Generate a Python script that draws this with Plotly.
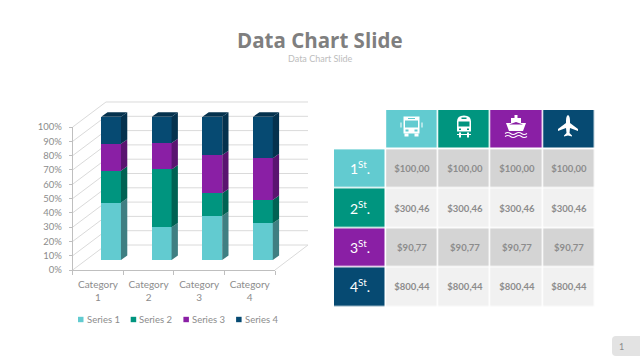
import plotly.graph_objects as go

categories = ["Category<br>1", "Category<br>2", "Category<br>3", "Category<br>4"]
series_names = ["Series 1", "Series 2", "Series 3", "Series 4"]
s1 = [40, 22.8, 30.7, 25.6]
s2 = [22.3, 40.4, 15.8, 16.3]
s3 = [18.8, 18.4, 26.7, 29.1]
s4 = [18.9, 18.4, 26.8, 29.0]
series_values = [s1, s2, s3, s4]
y_ticks = list(range(0, 101, 10))
y_labels = [f"{v}%" for v in y_ticks]
row_labels = ["1<sup>St</sup>.", "2<sup>St</sup>.", "3<sup>St</sup>.", "4<sup>St</sup>."]
row_costs = ["$100,00", "$300,46", "$90,77", "$800,44"]

W, H = 640, 360
front = ["#62CBD0", "#00957F", "#8A1FA5", "#064A72"]
side = ["#3F7F82", "#006253", "#5A1470", "#05324E"]
top_col = "#05324E"
grid = "#DADADA"
axc = "#BFBFBF"
txt = "#8C8C8C"
shade = ["#D4D4D4", "#F1F1F1"]

def fx(p): return p / W
def fy(p): return 1 - p / H
def path(cmds):
    out = []
    for c in cmds:
        if isinstance(c, str):
            out.append(c)
        else:
            out.append(f"{fx(c[0]):.5f},{fy(c[1]):.5f}")
    return " ".join(out)

fig = go.Figure()

# main visible axes (ticks, labels)
fig.add_trace(go.Scatter(x=[0, 1, 2, 3], y=[0, 0, 0, 0], mode="none", showlegend=False,
                         hoverinfo="skip", xaxis="x", yaxis="y"))

# stacked bars on overlay axes
bw = 0.39
dx, dy = 6.3 / 50.6, 4.4 / 1.433
for k, name in enumerate(series_names):
    fig.add_trace(go.Bar(x=[0, 1, 2, 3], y=series_values[k], name=name, marker=dict(color=front[k], line_width=0),
                         width=bw, xaxis="x2", yaxis="y2", showlegend=False))
for i in range(4):
    base = 0
    for k in range(4):
        v = series_values[k][i]
        xr = i + bw / 2
        fig.add_trace(go.Scatter(x=[xr, xr + dx, xr + dx, xr, xr], y=[base, base + dy, base + v + dy, base + v, base],
                                 mode="lines", line_width=0, fill="toself", fillcolor=side[k],
                                 showlegend=False, hoverinfo="skip", xaxis="x2", yaxis="y2"))
        base += v
    xl = i - bw / 2
    fig.add_trace(go.Scatter(x=[xl, xl + dx, xr + dx, xr, xl], y=[base, base + dy, base + dy, base, base],
                             mode="lines", line_width=0, fill="toself", fillcolor=top_col,
                             showlegend=False, hoverinfo="skip", xaxis="x2", yaxis="y2"))

# table drawn as heatmap cells: colour index -> palette
palette = front + shade
n = len(palette) - 1
cscale = []
for i, c in enumerate(palette):
    cscale += [[i / (n + 1), c], [(i + 1) / (n + 1), c]]
hm = dict(colorscale=cscale, zmin=-0.5, zmax=n + 0.5, showscale=False, xgap=1.5, ygap=1.5, hoverinfo="skip",
          xaxis="x3", yaxis="y3")
fig.add_trace(go.Heatmap(x=[1, 2, 3, 4], y=[0], z=[[0, 1, 2, 3]], **hm))
fig.add_trace(go.Heatmap(x=[0], y=[1, 2, 3, 4], z=[[0], [1], [2], [3]], text=[[t] for t in row_labels],
                         texttemplate="%{text}", textfont=dict(family="Lato", size=14, color="white"), **hm))
fig.add_trace(go.Heatmap(x=[1, 2, 3, 4], y=[1, 2, 3, 4], z=[[4 + r % 2] * 4 for r in range(4)],
                         text=[[f"<b>{c}</b>"] * 4 for c in row_costs], texttemplate="%{text}",
                         textfont=dict(family="Lato", size=9.5, color=txt), **hm))

shapes = []
# walls
xl0, xb0, xb1, xr0 = 72.7, 106, 308, 275
yb, yt = 270, 127
ddy = 25
for v in y_ticks:
    y = yb - (yt - yb) * -v / 100
    shapes.append(dict(type="path", path=path(["M", (xl0, y), "L", (xb0, y - ddy), "L", (xb1, y - ddy)]),
                       xref="paper", yref="paper", line=dict(color=grid, width=1), layer="below"))
shapes.append(dict(type="path", path=path(["M", (xr0, yb), "L", (xb1, yb - ddy)]),
                   xref="paper", yref="paper", line=dict(color=grid, width=1), layer="below"))

def icon(cmds, cx, cy, fill="white", line=None, width=0):
    pts = [c if isinstance(c, str) else (c[0] + cx, c[1] + cy) for c in cmds]
    shapes.append(dict(type="path", path=path(pts), xref="paper", yref="paper", fillcolor=fill,
                       line=dict(color=line or fill, width=width), layer="above"))

def rect(x0, y0, x1, y1):
    return ["M", (x0, y0), "L", (x1, y0), "L", (x1, y1), "L", (x0, y1), "Z"]

teal, green, purp = front[0], front[1], front[2]
# bus
cx, cy = 411.5, 126.5
icon(rect(-8, -10, 8, 7), cx, cy)
icon(rect(-6.5, -6, 6.5, 1), cx, cy, fill=teal)
icon(rect(-3.5, -8.5, 3.5, -7.5), cx, cy, fill=teal)
icon(rect(-7, 7, -3, 10), cx, cy)
icon(rect(3, 7, 7, 10), cx, cy)
icon(rect(-6, 3, -3, 5), cx, cy, fill=teal)
icon(rect(3, 3, 6, 5), cx, cy, fill=teal)
icon(rect(-11, -4, -10, 1), cx, cy)
icon(rect(10, -4, 11, 1), cx, cy)
# train
cx, cy = 464, 126.5
icon(["M", (-7, -5), "Q", (-7, -11), (0, -11), "Q", (7, -11), (7, -5), "L", (7, 5), "L", (-7, 5), "Z"], cx, cy)
icon(rect(-5.5, -5, 5.5, 0), cx, cy, fill=green)
icon(rect(-2.5, -9, 2.5, -7.5), cx, cy, fill=green)
icon(rect(-5, 2, -3, 3.5), cx, cy, fill=green)
icon(rect(3, 2, 5, 3.5), cx, cy, fill=green)
icon(rect(-5, 6, -3, 11), cx, cy)
icon(rect(3, 6, 5, 11), cx, cy)
icon(rect(-7, 7.5, 7, 8.5), cx, cy)
# ship
cx, cy = 516, 126
icon(rect(-1.5, -11, 1.5, -8), cx, cy)
icon(rect(-5, -8, 5, -3), cx, cy)
icon(["M", (-10, -3), "L", (10, -3), "L", (7, 5), "L", (-7, 5), "Z"], cx, cy)
icon(["M", (0, -4), "L", (7, -1.5), "L", (-7, -1.5), "Z"], cx, cy, fill=purp)
for wy in (7.5, 10.5):
    icon(["M", (-11, wy), "Q", (-8, wy - 2), (-5.5, wy), "Q", (-3, wy + 2), (0, wy), "Q", (3, wy - 2), (5.5, wy),
          "Q", (8, wy + 2), (11, wy)], cx, cy, fill="rgba(0,0,0,0)", line="white", width=1.2)
# plane
cx, cy = 568, 126
icon(["M", (0, -11), "Q", (2, -10), (2, -5), "L", (2, -3), "L", (10, 3), "L", (10, 5), "L", (2, 2), "L", (1.5, 7),
      "L", (4, 9.5), "L", (4, 10.5), "L", (0, 9.5), "L", (-4, 10.5), "L", (-4, 9.5), "L", (-1.5, 7), "L", (-2, 2),
      "L", (-10, 5), "L", (-10, 3), "L", (-2, -3), "L", (-2, -5), "Q", (-2, -10), (0, -11), "Z"], cx, cy)
# page number box
shapes.append(dict(type="path", path=path(["M", (616, 336), "L", (640, 336), "L", (640, 356), "L", (616, 356),
                                            "Q", (612, 356), (612, 352), "L", (612, 340), "Q", (612, 336), (616, 336), "Z"]),
                   xref="paper", yref="paper", fillcolor="#E3E3E3", line=dict(width=0), layer="below"))

annotations = [
    dict(text="<b>Data Chart Slide</b>", x=fx(320), y=fy(39.5), xref="paper", yref="paper", showarrow=False,
         yanchor="middle", font=dict(family="Open Sans", size=20.5, color="#7F7F7F")),
    dict(text="Data Chart Slide", x=fx(320), y=fy(59), xref="paper", yref="paper", showarrow=False,
         yanchor="middle", font=dict(family="Lato", size=9, color="#BDBDBD")),
    dict(text="1", x=fx(626), y=fy(346), xref="paper", yref="paper", showarrow=False,
         yanchor="middle", font=dict(family="Lato", size=9, color="#8C8C8C")),
]
# legend
for k, name in enumerate(series_names):
    x0 = 78 + 52.7 * k
    shapes.append(dict(type="rect", x0=fx(x0), x1=fx(x0 + 5.5), y0=fy(319.5 + 2.7), y1=fy(319.5 - 2.7),
                       xref="paper", yref="paper", fillcolor=front[k], line=dict(width=0)))
    annotations.append(dict(text=name, x=fx(x0 + 6.5), y=fy(319), xref="paper", yref="paper", showarrow=False,
                            xanchor="left", yanchor="middle", font=dict(family="Lato", size=9.5, color=txt)))

fig.update_layout(
    width=W, height=H, autosize=False, margin=dict(l=0, r=0, t=0, b=0, autoexpand=False),
    paper_bgcolor="white", plot_bgcolor="rgba(0,0,0,0)", barmode="stack", barnorm="percent",
    font=dict(family="Lato", size=10, color=txt),
    shapes=shapes, annotations=annotations, hovermode=False, showlegend=False,
    xaxis=dict(domain=[fx(72.7), fx(275)], range=[-0.5, 3.5], tickvals=[0, 1, 2, 3], ticktext=categories,
               ticklen=0, showgrid=False, zeroline=False, showline=True, linecolor=axc, linewidth=1, automargin=False,
               ticklabelstandoff=5,
               minor=dict(tickvals=[-0.5, 0.5, 1.5, 2.5, 3.5], ticks="outside", ticklen=4, tickcolor=axc, showgrid=False),
               tickfont=dict(size=10, color=txt), fixedrange=True),
    yaxis=dict(domain=[fy(270), fy(127)], range=[0, 100], tickvals=y_ticks, ticktext=y_labels,
               ticks="outside", ticklen=3, tickcolor=axc, showgrid=False, zeroline=False, automargin=False,
               ticklabelstandoff=5,
               showline=True, linecolor=axc, linewidth=1, tickfont=dict(size=9.5, color=txt), fixedrange=True),
    xaxis2=dict(domain=[fx(72.7), fx(310)], range=[-0.759, 3.93], visible=False, anchor="y2", fixedrange=True, automargin=False),
    yaxis2=dict(domain=[fy(270), fy(100)], range=[-6.98, 111.65], visible=False, anchor="x2", fixedrange=True, automargin=False),
    xaxis3=dict(domain=[fx(334), fx(595)], range=[-0.5, 4.5], visible=False, anchor="y3", fixedrange=True, automargin=False),
    yaxis3=dict(domain=[fy(307), fy(110)], range=[4.5, -0.5], visible=False, anchor="x3", fixedrange=True, automargin=False),
)

fig.write_html("out.html", config=dict(displayModeBar=False),
               post_script="document.body.style.margin='0';document.documentElement.style.overflow='hidden';")
